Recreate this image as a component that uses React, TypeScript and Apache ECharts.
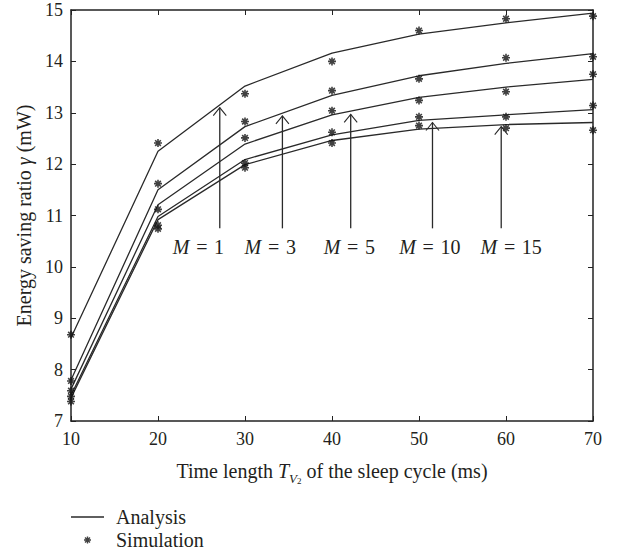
import React, { useEffect, useRef } from "react";
import * as echarts from "echarts";

// ---- data ----
const xValues = [10, 20, 30, 40, 50, 60, 70];
const analysisM1 = [8.62, 12.25, 13.52, 14.16, 14.53, 14.75, 14.94];
const analysisM3 = [7.8, 11.5, 12.73, 13.34, 13.72, 13.96, 14.15];
const analysisM5 = [7.62, 11.21, 12.39, 12.96, 13.3, 13.5, 13.65];
const analysisM10 = [7.5, 10.98, 12.09, 12.57, 12.85, 12.96, 13.06];
const analysisM15 = [7.45, 10.92, 11.99, 12.46, 12.68, 12.77, 12.81];

const simM1 = [8.68, 12.41, 13.37, 14.0, 14.6, 14.83, 14.88];
const simM3 = [7.78, 11.62, 12.83, 13.43, 13.66, 14.07, 14.09];
const simM5 = [7.59, 11.12, 12.51, 13.04, 13.24, 13.41, 13.75];
const simM10 = [7.48, 10.81, 12.02, 12.62, 12.92, 12.92, 13.14];
const simM15 = [7.38, 10.74, 11.93, 12.41, 12.75, 12.7, 12.66];

const mLabels = ["1", "3", "5", "10", "15"];
const arrowX = [27.1, 34.3, 42.15, 51.55, 59.45];
const arrowFrom = [10.75, 10.75, 10.75, 10.75, 10.75];
const arrowTo = [13.1, 12.94, 12.97, 12.81, 12.73];
const labelX = [24.65, 32.9, 42.0, 51.25, 60.6];
const labelY = [10.38, 10.38, 10.38, 10.38, 10.38];

const xTicks = { min: 10, max: 70, interval: 10 };
const yTicks = { min: 7, max: 15, interval: 1 };

const FONT = "'Liberation Serif', 'Times New Roman', serif";
const INK = "#231f20";
const LINE = "#2a2a2a";

const ASTERISK =
  "path://M-5,-1L5,-1L5,1L-5,1Z" +
  "M-1,-5L1,-5L1,5L-1,5Z" +
  "M-2.83,-4.24L4.24,2.83L2.83,4.24L-4.24,-2.83Z" +
  "M4.24,-2.83L-2.83,4.24L-4.24,2.83L2.83,-4.24Z";

const LINE_ICON = "path://M0,0L33,0L33,1.3L0,1.3Z";

export default function App() {
  const ref = useRef<HTMLDivElement>(null);
  useEffect(() => {
    if (!ref.current) return;
    const chart = echarts.init(ref.current, null, { renderer: "svg" });
    const pair = (ys: number[]) => xValues.map((x, i) => [x, ys[i]]);
    const analysis = [analysisM1, analysisM3, analysisM5, analysisM10, analysisM15];
    const sims = [simM1, simM3, simM5, simM10, simM15];

    const lineSeries = analysis.map((ys) => ({
      type: "line",
      name: "Analysis",
      data: pair(ys),
      symbol: "none",
      lineStyle: { color: LINE, width: 1.3 },
      itemStyle: { color: LINE },
      z: 3,
    }));
    const scatterSeries = sims.map((ys) => ({
      type: "scatter",
      name: "Simulation",
      data: pair(ys),
      symbol: ASTERISK,
      symbolSize: 8,
      itemStyle: { color: "#111" },
      z: 4,
    }));

    const arrowSeries = {
      type: "custom",
      name: "arrows",
      data: arrowX.map((x, i) => [x, arrowFrom[i], arrowTo[i]]),
      renderItem: (_p: any, api: any) => {
        const p0 = api.coord([api.value(0), api.value(1)]);
        const p1 = api.coord([api.value(0), api.value(2)]);
        return {
          type: "group",
          children: [
            {
              type: "line",
              shape: { x1: p0[0], y1: p0[1], x2: p1[0], y2: p1[1] },
              style: { stroke: LINE, lineWidth: 1.3 },
            },
            {
              type: "polyline",
              shape: {
                points: [
                  [p1[0] - 6.5, p1[1] + 8],
                  [p1[0], p1[1]],
                  [p1[0] + 6.5, p1[1] + 8],
                ],
              },
              style: { stroke: LINE, fill: "none", lineWidth: 1.1 },
            },
          ],
        };
      },
      z: 5,
    };

    const labelSeries = {
      type: "custom",
      name: "labels",
      data: labelX.map((x, i) => [x, labelY[i], i]),
      renderItem: (_p: any, api: any) => {
        const p = api.coord([api.value(0), api.value(1)]);
        const idx = api.value(2);
        return {
          type: "text",
          x: p[0],
          y: p[1],
          style: {
            text: "{i|M}\u2004=\u2004" + mLabels[idx],
            align: "center",
            verticalAlign: "middle",
            fontSize: 20,
            fontFamily: FONT,
            fill: INK,
            rich: { i: { fontStyle: "italic", fontSize: 20, fontFamily: FONT, fill: INK } },
          },
        };
      },
      z: 5,
    };

    const axisLine = { show: true, lineStyle: { color: "#222", width: 1.5 } };
    const tick = { show: true, inside: true, length: 5, lineStyle: { color: "#222", width: 1 } };

    chart.setOption({
      animation: false,
      grid: { left: 71, right: 25, top: 10, bottom: 130 },
      legend: {
        orient: "vertical",
        left: 71,
        top: 507,
        padding: 0,
        itemGap: 3,
        itemWidth: 33,
        itemHeight: 7,
        selectedMode: false,
        data: [
          { name: "Analysis", icon: LINE_ICON },
          { name: "Simulation", icon: ASTERISK },
        ],
        textStyle: {
          fontFamily: FONT,
          fontSize: 20,
          color: INK,
          lineHeight: 19,
          padding: [0, 0, 0, 7],
        },
      },
      xAxis: [
        {
          type: "value",
          min: xTicks.min,
          max: xTicks.max,
          interval: xTicks.interval,
          position: "bottom",
          axisLine,
          axisTick: tick,
          splitLine: { show: false },
          axisLabel: { fontFamily: FONT, fontSize: 18, color: INK, margin: 9 },
          name: "{n|Time length }{i|T}{v|V}{s|2}{n| of the sleep cycle (ms)}",
          nameLocation: "middle",
          nameGap: 36,
          nameTextStyle: {
            fontFamily: FONT,
            fontSize: 20,
            color: INK,
            rich: {
              n: { fontFamily: FONT, fontSize: 20, color: INK, lineHeight: 28 },
              i: { fontFamily: FONT, fontSize: 20, color: INK, lineHeight: 28, fontStyle: "italic" },
              v: { fontFamily: FONT, fontSize: 13, color: INK, lineHeight: 19.4, verticalAlign: "bottom", fontStyle: "italic" },
              s: { fontFamily: FONT, fontSize: 9, color: INK, lineHeight: 3.4, verticalAlign: "bottom" },
            },
          },
        },
        {
          type: "value",
          min: xTicks.min,
          max: xTicks.max,
          interval: xTicks.interval,
          position: "top",
          axisLine,
          axisTick: tick,
          splitLine: { show: false },
          axisLabel: { show: false },
        },
      ],
      yAxis: [
        {
          type: "value",
          min: yTicks.min,
          max: yTicks.max,
          interval: yTicks.interval,
          position: "left",
          axisLine,
          axisTick: tick,
          splitLine: { show: false },
          axisLabel: { fontFamily: FONT, fontSize: 18, color: INK, margin: 8 },
          name: "Energy saving ratio {i|γ} (mW)",
          nameLocation: "middle",
          nameGap: 34,
          nameTextStyle: {
            fontFamily: FONT,
            fontSize: 20,
            color: INK,
            rich: { i: { fontFamily: FONT, fontSize: 20, color: INK, fontStyle: "italic" } },
          },
        },
        {
          type: "value",
          min: yTicks.min,
          max: yTicks.max,
          interval: yTicks.interval,
          position: "right",
          axisLine,
          axisTick: tick,
          splitLine: { show: false },
          axisLabel: { show: false },
        },
      ],
      series: [...lineSeries, ...scatterSeries, arrowSeries, labelSeries],
    });
    return () => chart.dispose();
  }, []);
  return (
    <div
      ref={ref}
      style={{ position: "fixed", left: 0, top: 0, width: 618, height: 551, background: "#fff" }}
    />
  );
}
